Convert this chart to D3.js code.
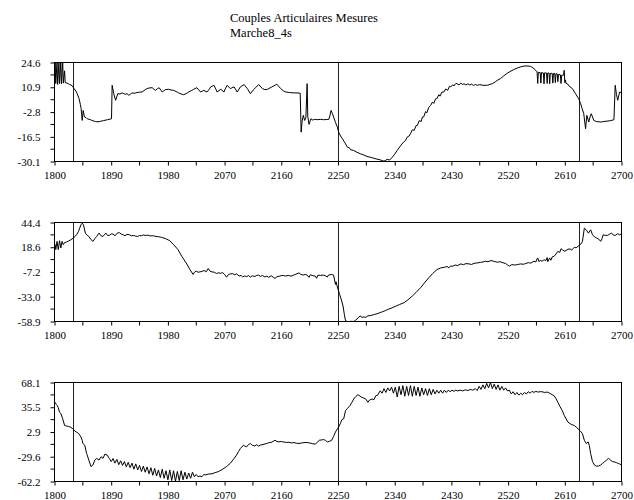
<!DOCTYPE html>
<html><head><meta charset="utf-8">
<script src="https://cdn.jsdelivr.net/npm/d3@7"></script>
<style>
body{margin:0;background:#fff}
svg text{font-family:"Liberation Serif","Times New Roman",serif !important;fill:#000}
</style>
</head><body>
<svg id="chart" width="634" height="500"></svg>
<script>
// ---------- data ----------
const titleLines = ["Couples Articulaires Mesures", "Marche8_4s"];
const xTickLabels = [1800, 1890, 1980, 2070, 2160, 2250, 2340, 2430, 2520, 2610, 2700];
const markerFrames = [1830, 2250, 2632];

const yTicks1 = [-30.1, -16.5, -2.8, 10.9, 24.6];
const yTicks2 = [-58.9, -33.0, -7.2, 18.6, 44.4];
const yTicks3 = [-62.2, -29.6, 2.9, 35.5, 68.1];

const torque1 = [
[1800,15],[1801,24.6],[1802,13],[1804,24.6],[1805,12.5],[1807,24.6],[1808,13],[1810,24.6],[1811,12.8],[1813,24.6],[1814,13.2],[1816,20],[1817,13.5],[1820,13.2],[1824,12.5],[1828,11.8],[1831,10.2],[1834,8.8],[1836,7.4],[1839,4.6],[1841,1.5],[1842.3,-0.9],[1843,-4],[1844,-7.4],[1845.5,-1.9],[1847.6,-5.5],[1850,-5.8],[1852,-6.5],[1857,-7.0],[1861,-7.6],[1865,-8.0],[1869,-8.2],[1873,-7.9],[1878,-7.5],[1884,-7.0],[1890.5,-6.5],
[1891.5,12.0],[1894,7.4],[1897,3.7],[1900.5,7.4],[1904,7.2],[1907.4,7.8],[1910,7.4],[1912.7,7.0],[1915,7.4],[1918,6.5],[1921,7.2],[1923,7.8],[1927,7.6],[1931,8.0],[1935,8.2],[1939,8.3],[1944,9.6],[1947,10.2],[1950,10.5],[1955,10.7],[1958,9.8],[1960,9.2],[1963,10.0],[1966,10.7],[1971,8.3],[1976,9.6],[1981,9.8],[1985,9.4],[1989,9.2],[1993,8.6],[1997,7.8],[2001,7.2],[2005,6.8],[2009,7.4],[2013,8.3],[2017,9.0],[2021,9.8],[2026,10.7],[2029,9.4],[2032,8.3],[2037,9.2],[2042,8.3],[2045,9.5],[2048,11.1],[2053,12.0],[2056,10.0],[2058,8.3],[2064,9.8],[2069,8.3],[2071,10.0],[2074,12.0],[2079,10.2],[2085,11.1],[2090,8.3],[2095,11.1],[2101,12.4],[2106,10.2],[2111,7.4],[2116,9.6],[2120,11.0],[2124,12.4],[2130,10.2],[2134,9.6],[2138,9.8],[2145,11.1],[2153,12.6],[2159,10.2],[2163,9.0],[2167,8.3],[2173,8.0],[2180,7.8],[2185,7.8],[2190,7.6],
[2191.5,-13.9],[2193,-8],[2195,-4.6],[2197,-7.4],[2199,-6],[2201,12.9],[2202,-5],[2204,-9.6],[2207,-6.5],[2210,-7.2],[2213,-6.8],[2217,-7.0],[2222,-6.8],[2227,-7.0],[2232,-6.9],[2235.5,-6.8],[2237,-5],[2239,-1.9],[2241,-3.5],[2243,-5.5],[2246,-8.5],[2249,-11.1],[2251,-13.9],[2254,-16],[2257,-17.5],[2261,-19.8],[2265,-22.2],[2268,-22.5],[2270,-23.6],[2275,-24.0],[2280,-25.0],[2286,-25.9],[2291,-26.5],[2296,-27.3],[2302,-27.8],[2307,-28.3],[2312,-28.8],[2317,-29.2],[2320,-29.6],[2323,-29.9],[2326,-29.4],[2328,-28.9],[2332,-29.3],[2336,-27.8],[2340,-26],[2344,-24.0],[2349,-21.5],[2354,-19.4],[2357,-18.6],[2360,-16.5],[2363,-16.0],[2365,-14.8],[2368,-12.6],[2371,-12.9],[2374,-10.2],[2376,-10.2],[2379,-7.5],[2382,-8.0],[2384,-5.5],[2386,-5.5],[2389,-2.5],[2391,-3.2],[2394,-0.2],[2397,0.9],[2400,2.8],[2402,2.0],[2405,4.6],[2407,4.6],[2410,6.8],[2412,6.0],[2415,8.3],[2418,8.3],[2421,10.0],[2424,9.2],[2427,11.5],[2429,11.1],[2432,12.3],[2434,11.6],[2437,13.0],[2439,12.9],[2442,12.2],[2445,13.2],[2448,12.4],[2450,12.9],[2453,12.2],[2456,12.8],[2459,12.2],[2462,12.6],[2465,11.9],[2468,12.5],[2471,12.0],[2475,12.4],[2480,12.0],[2487,12.0],[2491,12.5],[2495,12.9],[2500,14.0],[2504,15.0],[2508,15.7],[2513,17.2],[2518,18.5],[2523,19.6],[2529,20.7],[2535,21.6],[2540,22.2],[2545,22.6],[2550,22.7],[2555.5,22.5],[2558,22.0],[2561,21.2],[2564,20.2],[2566,19.4],
[2567,13.0],[2568,19.2],[2571,19.0],[2572,13.2],[2573,19.0],[2576,18.8],[2577,12.8],[2578,18.9],[2581,18.8],[2582,13.0],[2583,18.8],[2585,18.8],[2586,12.9],[2587,18.6],[2590,18.6],[2591,13.2],[2592,18.5],[2594,18.6],[2595,13.5],[2596,18.4],[2598,18.3],[2599,14.0],[2600,18.0],[2603,17.8],[2604,13.0],[2605,17.5],[2608,17.6],[2609,20.3],[2610,13.5],[2611,15.0],[2612,13.0],[2614,12.9],[2617,11.5],[2622,10.2],[2627,7.4],[2632,4.6],[2635,2.0],[2637.5,-0.9],[2640,-3.5],[2643,-12.0],[2645,-4.6],[2648,-8.3],[2650,-5.5],[2652,-3.7],[2654,-5.5],[2656,-7.4],[2660,-8.0],[2667,-8.3],[2672,-8.0],[2677,-7.8],[2683,-7.5],[2688,-7.0],[2690,12.0],[2692,7.0],[2694,3.7],[2697,8.3],[2700,8.0]
];

const torque2 = [
[1800,20],[1801,21.3],[1802,16.1],[1804,24.7],[1806,16.1],[1808,25.4],[1810,17.8],[1812,24.7],[1814,21.3],[1816,23.5],[1819,24.0],[1822,25.0],[1826,26.4],[1830,28.2],[1835,31.6],[1838,35],[1840,38.5],[1842,42],[1844,43.7],[1846,42.0],[1849,33.3],[1852,31],[1854.5,29.9],[1858,26.5],[1861,24.7],[1864,27.5],[1867,29.9],[1870.6,33.3],[1874,30.5],[1877,29.9],[1879,31.5],[1881.5,33.3],[1884,31.0],[1887,30.9],[1890,32.5],[1893,32.3],[1896,30.5],[1899.5,33.3],[1903,33.8],[1906,32.3],[1909,31.5],[1912,30.6],[1915,32],[1919,31.6],[1922,30.5],[1925,30.9],[1929,30.2],[1932,29.9],[1935,30.8],[1938,30.6],[1941,31.4],[1944,30.9],[1948,31.2],[1952,30.4],[1957,30.6],[1961,29.8],[1965,29.6],[1970,28.9],[1976.5,27.5],[1983,25.4],[1989,21.3],[1996,16.1],[2002,9.2],[2009,2.2],[2015,-4.7],[2020,-9.8],[2022,-7.5],[2025,-6.4],[2028,-7.5],[2031,-7.1],[2034,-6.6],[2037.5,-5.7],[2041,-7.0],[2044,-3.6],[2047,-6.5],[2050,-7.1],[2054,-7.6],[2057,-8.8],[2060,-8.1],[2064,-8.6],[2067,-7.9],[2070,-9.8],[2073,-12.6],[2076,-10],[2079,-9.2],[2083,-9.0],[2086,-10.2],[2089,-9.2],[2093,-11.5],[2096,-10.8],[2098.5,-12.3],[2102,-11.4],[2105,-12.0],[2108,-11.0],[2111,-12.6],[2114,-11.2],[2118,-11.9],[2121,-10.8],[2124,-10.5],[2127,-11.8],[2130,-10.9],[2134,-12.4],[2137,-11.6],[2140,-12.8],[2144,-11.2],[2147,-12.6],[2150,-14.0],[2153,-12.2],[2157,-11.6],[2160,-11.0],[2163,-10.9],[2167,-11.5],[2171,-10.8],[2175.6,-11.6],[2179,-10.6],[2183,-9.6],[2188,-8.1],[2191,-9.8],[2195,-10.4],[2198,-9.8],[2201,-10.5],[2204,-12.8],[2206,-10.2],[2210,-11.0],[2214,-11.6],[2216,-13.8],[2218,-10.6],[2222,-10.8],[2227,-10.5],[2230,-11.2],[2233,-12.5],[2235,-10.4],[2240,-9.8],[2243,-10.5],[2246,-20.2],[2247,-17.5],[2249,-23.0],[2252.6,-30.6],[2255,-35.5],[2258,-42.7],[2260,-51.3],[2262,-58.2],[2265,-58.9],[2268,-58.9],[2272,-58.7],[2275,-58.9],[2278,-57.5],[2282,-55.2],[2285,-53.0],[2288,-54.6],[2291,-54.1],[2294,-54.6],[2297.5,-53.0],[2301,-52.8],[2304,-52.3],[2308,-51.5],[2312,-50.8],[2317,-49.6],[2321,-48.6],[2325,-47.6],[2330,-46.1],[2336,-44.6],[2342.5,-42.7],[2348,-41.1],[2355,-39.2],[2361,-36.3],[2368,-32.3],[2374,-28.5],[2381,-23.7],[2387,-18.8],[2394,-13.3],[2400,-9.0],[2407,-4.7],[2413,-3.0],[2419.5,-2.2],[2423,-1.5],[2426,-2.8],[2429,-1.0],[2432,-1.2],[2436,0.0],[2440,-0.5],[2445,1.2],[2449,0.4],[2453,1.5],[2458,1.2],[2462,0.6],[2466,1.8],[2471,2.2],[2476,2.8],[2480,3.2],[2484,4.0],[2488,3.5],[2493,4.7],[2498,3.8],[2503,2.9],[2507,3.5],[2512,2.4],[2516,1.6],[2519,0.2],[2522,-1.2],[2526,0.5],[2530,0.0],[2535,0.5],[2540,1.2],[2544,0.8],[2548,1.6],[2552,2.5],[2556,2.0],[2561,4.0],[2564,3.2],[2566,6.5],[2567,7.4],[2569,3.5],[2571,5.0],[2574,4.0],[2577,5.5],[2580,4.7],[2582,7.8],[2583,3.5],[2586,7.4],[2588,5.0],[2590,8.5],[2593,9.2],[2596,11.5],[2599,14.3],[2602,13.2],[2604,17.0],[2606,16.1],[2609,14.5],[2612,15.0],[2615,16.5],[2618.5,16.8],[2621,15.6],[2625,18.5],[2628,18.0],[2631,19.5],[2635,21.5],[2638,24.7],[2641,38.5],[2644,36.8],[2647.5,33.3],[2651,36.8],[2654,31.6],[2657,29.5],[2660.5,28.2],[2664,27],[2667,24.7],[2669,27.5],[2671,31.6],[2674,31.0],[2677.5,30.9],[2681,32.2],[2684,33.3],[2687,31.5],[2690,30.9],[2694,32.8],[2697,31.5],[2700,32.7]
];

const torque3 = [
[1800,42.5],[1801,42.0],[1803,39],[1804.5,37.7],[1806,35.0],[1808,29.0],[1810,27.5],[1813,20.3],[1816,11.6],[1819,10.8],[1822.5,10.3],[1826,9.0],[1829,7.3],[1832,4.3],[1835,2.8],[1838.5,0.8],[1842,-3.6],[1844,-8],[1845,-12.2],[1848,-14.4],[1851,-25.3],[1854.5,-34.0],[1858,-42.6],[1861,-40.5],[1864,-34],[1867,-31.8],[1870.6,-34],[1874,-29.6],[1877,-31.8],[1880,-26.1],[1883.5,-27.4],[1887,-31.8],
[1890,-36],[1893,-32],[1896,-38],[1899,-33],[1902,-40],[1905,-35],[1908,-41],[1911,-36],[1914,-43],[1917,-37],[1920,-44],[1923,-38],[1926,-46],[1929,-39],[1932,-47],[1935,-41],[1938,-49],[1941,-42],[1944,-50],[1947,-43],[1950,-52],[1953,-44],[1956,-54],[1959,-45],[1962,-55],[1965,-47],[1968,-57],[1971,-46],[1974,-58],[1977,-48],[1980,-60],[1983,-47],[1986,-61],[1989,-48],[1992,-62],[1995,-49],[1998,-61],[2001,-48],[2004,-60],[2007,-50],[2010,-59],[2013,-51],[2016,-58],[2019,-50],[2022,-56],[2025,-53],[2028,-56],[2031,-55],[2034,-56],[2037,-53],[2040,-53.5],[2044,-52.5],[2050,-52],[2055,-50.5],[2060,-49.2],[2066,-46.5],[2073,-42.6],[2079,-38.3],[2084,-33],[2089,-27.4],[2092,-23],[2095,-18.8],[2100,-14.4],[2102,-15.5],[2105,-16.6],[2108,-13.5],[2111,-12.2],[2114,-14.6],[2118,-15.3],[2121,-13.8],[2124,-15.7],[2127,-14.2],[2131,-13.5],[2134,-12.8],[2137,-12.2],[2140,-11.2],[2143.5,-10.8],[2147,-9.4],[2150,-7.9],[2153,-9.6],[2156,-10.0],[2160,-9.6],[2163,-10.1],[2168,-10.8],[2172,-10.6],[2175.6,-11.4],[2180,-11.0],[2184,-11.8],[2188,-12.2],[2192,-11.5],[2196,-11.0],[2201,-10.9],[2206,-11.6],[2210,-12.5],[2214,-13.1],[2217,-10.5],[2220.5,-7.9],[2224,-7.5],[2227,-7.0],[2230,-8.0],[2233,-10.1],[2236,-9.5],[2240,-7.9],[2243,-3.0],[2246,3.0],[2251,9.5],[2254,14.5],[2256,19.0],[2259,20.3],[2262,31.2],[2265,34],[2269,37.7],[2272,42],[2275,46.4],[2278,49.5],[2281.5,52.0],[2285,50.2],[2288,48.6],[2291,47.5],[2294,46.4],[2297.5,42.0],[2300,45],[2304,46.4],[2307,45.5],[2310,50.7],[2313,51.5],[2317,57.2],
[2320,54],[2323,60],[2326,55],[2329,61],[2332,57],[2335,62],[2338,54],[2341,62],[2344,49],[2347,63],[2350,52],[2353,64],[2356,50],[2359,63],[2362,51],[2365,64],[2368,50],[2371,63],[2374,51],[2377,62],[2380,50],[2383,61],[2386,52],[2389,60],[2392,51],[2395,60],[2398,52],[2401,59],[2404,53],[2407,58],[2410,54],[2413,58],[2416,54],[2419,58],[2422,55],[2425,58],[2428,56],[2431,58],[2434,56.5],[2437,58],[2440,57],[2444,58],[2448,57],[2452,58.5],[2456,57.5],[2460,59],[2464,58],[2468,60],[2471,57.5],[2474,63],[2477,59],[2480,65],[2483,60],[2486,67],[2489,61],[2492,68],[2495,60],[2498,66],[2501,59],[2504,65],[2507,58],[2510,63],[2513,58],[2516,61],[2519,57],[2522,58],[2525,53],[2528,56],[2531,52],[2534,55],[2537,51.5],[2540,54],[2543,52],[2546,55],[2549,53],[2552,56],[2555,54],[2558,56.5],[2561,55],[2564,56.5],[2567,55.5],[2571,56],[2574,55.9],[2578,55],[2582,55.5],[2586,54],[2590,52],[2593,50.7],[2596,47],[2599,42],[2602,37],[2606,31.2],[2609,25],[2612,20.3],[2615,16],[2618.5,13.8],[2622,12.5],[2625,11.6],[2628,9.5],[2631,7.3],[2635,4],[2638,0.8],[2641,-7.9],[2644,-12.2],[2647,-10.1],[2649,-15],[2651,-25.3],[2654,-36.1],[2657,-40.5],[2660,-42.0],[2663.5,-41.8],[2667,-40.5],[2670,-38.3],[2673,-36.5],[2676,-34.0],[2679.5,-31.8],[2683,-34.5],[2686,-36.1],[2689,-36.5],[2692,-37.4],[2695,-38.5],[2697,-39.0],[2700,-40.5]
];

// ---------- drawing ----------
const FONT = '"Liberation Serif","Times New Roman",serif';
const svg = d3.select("#chart");
const W = 634, H = 500;
svg.append("rect").attr("width", W).attr("height", H).attr("fill", "#fff");

const left = 54.5, right = 621.5, panelH = 99;
const panels = [
  {top: 62.5, ticks: yTicks1, data: torque1},
  {top: 222.5, ticks: yTicks2, data: torque2},
  {top: 382.5, ticks: yTicks3, data: torque3}
];

// title
svg.selectAll("text.title").data(titleLines).enter().append("text")
  .attr("class", "title")
  .attr("x", 230).attr("y", (d, i) => 22 + i * 14.5)
  .style("font-family", FONT).style("font-size", "12.5px")
  .text(d => d);

const x = d3.scaleLinear().domain([1800, 2700]).range([left, right]);

panels.forEach((p, pi) => {
  const bottom = p.top + panelH;
  const yMin = p.ticks[0], yMax = p.ticks[p.ticks.length - 1];
  const y = d3.scaleLinear().domain([yMin, yMax]).range([bottom, p.top]);
  const g = svg.append("g");

  const clipId = "clip" + pi;
  g.append("clipPath").attr("id", clipId).append("rect")
    .attr("x", left).attr("y", p.top).attr("width", right - left).attr("height", panelH);

  // y axis (left) with minor ticks
  const yAxis = d3.axisLeft(y).tickValues(p.ticks).tickSize(4).tickPadding(10)
    .tickFormat(d => d.toFixed(1));
  const ya = g.append("g").attr("transform", `translate(${left},0)`).call(yAxis);
  ya.attr("font-family", null).attr("font-size", null);
  ya.select(".domain").remove();
  ya.selectAll("text").style("font-family", FONT).style("font-size", "11px");
  const yMinor = d3.range(4).map(i => (p.ticks[i] + p.ticks[i + 1]) / 2);
  g.append("g").selectAll("line").data(yMinor).enter().append("line")
    .attr("x1", left - 4).attr("x2", left)
    .attr("y1", d => y(d)).attr("y2", d => y(d))
    .attr("stroke", "#000");

  // x axis (bottom) with minor ticks
  const xAxis = d3.axisBottom(x).tickValues(xTickLabels).tickSize(4).tickPadding(5.5)
    .tickFormat(d3.format("d"));
  const xa = g.append("g").attr("transform", `translate(0,${bottom})`).call(xAxis);
  xa.attr("font-family", null).attr("font-size", null);
  xa.select(".domain").remove();
  xa.selectAll("text").style("font-family", FONT).style("font-size", "11px");
  const xMinor = xTickLabels.slice(0, -1).map(d => d + 45);
  g.append("g").selectAll("line").data(xMinor).enter().append("line")
    .attr("x1", d => x(d)).attr("x2", d => x(d))
    .attr("y1", bottom).attr("y2", bottom + 4)
    .attr("stroke", "#000");

  // frame
  g.append("rect").attr("x", left).attr("y", p.top)
    .attr("width", right - left).attr("height", panelH)
    .attr("fill", "none").attr("stroke", "#000").attr("stroke-width", 1);

  // event markers
  g.append("g").selectAll("line").data(markerFrames).enter().append("line")
    .attr("x1", d => Math.round(x(d)) + 0.5).attr("x2", d => Math.round(x(d)) + 0.5)
    .attr("y1", p.top).attr("y2", bottom)
    .attr("stroke", "#222").attr("stroke-width", 1);

  // series line
  const line = d3.line().x(d => x(d[0])).y(d => y(d[1]));
  g.append("path").datum(p.data)
    .attr("clip-path", `url(#${clipId})`)
    .attr("d", line)
    .attr("fill", "none").attr("stroke", "#000").attr("stroke-width", 1);
});
</script>
</body></html>
